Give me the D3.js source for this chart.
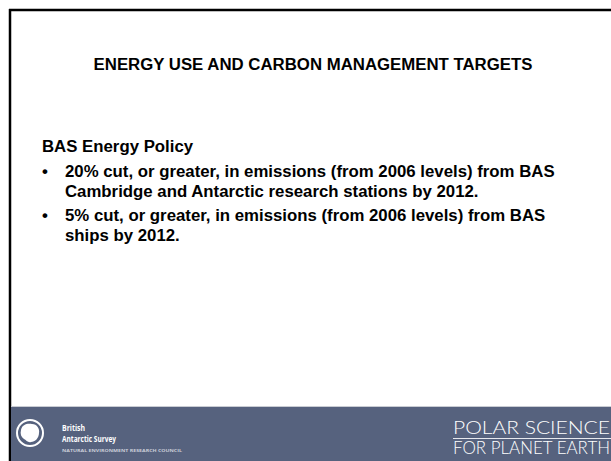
<!DOCTYPE html>
<html>
<head>
<meta charset="utf-8">
<script src="https://d3js.org/d3.v7.min.js"></script>
<style>
  body { margin: 0; background: #fff; }
</style>
</head>
<body>
<svg id="slide"></svg>
<script>
// slide text
const title = "ENERGY USE AND CARBON MANAGEMENT TARGETS";
const heading = "BAS Energy Policy";
const bullets = [
  ["20% cut, or greater, in emissions (from 2006 levels) from BAS",
   "Cambridge and Antarctic research stations by 2012."],
  ["5% cut, or greater, in emissions (from 2006 levels) from BAS",
   "ships by 2012."]
];
const logoLines = ["British", "Antarctic Survey"];
const logoSub = "NATURAL ENVIRONMENT RESEARCH COUNCIL";
const tagLines = ["POLAR SCIENCE", "FOR PLANET EARTH"];

const width = 611, height = 461;
const footerTop = 407;

const svg = d3.select("#slide")
    .attr("width", width)
    .attr("height", height);

// frame
svg.append("line")
    .attr("x1", 9).attr("x2", width).attr("y1", 10).attr("y2", 10)
    .attr("stroke", "#000").attr("stroke-width", 2.5);
svg.append("line")
    .attr("x1", 10).attr("x2", 10).attr("y1", 9).attr("y2", height)
    .attr("stroke", "#000").attr("stroke-width", 2.5);

// title
svg.append("text")
    .attr("x", 313).attr("y", 70)
    .attr("text-anchor", "middle")
    .style("font", "bold 16.8px 'Liberation Sans', Arial, sans-serif")
    .attr("fill", "#000")
    .text(title);

// heading + bullets
const bodyFont = "bold 16.8px 'Liberation Sans', Arial, sans-serif";
svg.append("text")
    .attr("x", 42).attr("y", 152)
    .style("font", bodyFont)
    .text(heading);

const bulletTop = [177, 221];
const lineGap = 20;
bullets.forEach(function(lines, i) {
    svg.append("text")
        .attr("x", 42).attr("y", bulletTop[i])
        .style("font", bodyFont)
        .text("\u2022");
    lines.forEach(function(l, j) {
        svg.append("text")
            .attr("x", 65).attr("y", bulletTop[i] + j * lineGap)
            .style("font", bodyFont)
            .text(l);
    });
});

// footer band
svg.append("rect")
    .attr("x", 11).attr("y", footerTop)
    .attr("width", width - 11).attr("height", height - footerTop)
    .attr("fill", "#56627e");
svg.append("line")
    .attr("x1", 11).attr("x2", width).attr("y1", footerTop - 0.5).attr("y2", footerTop - 0.5)
    .attr("stroke", "#c9ccd3").attr("stroke-width", 1);

// BAS logo
const logo = svg.append("g").attr("transform", "translate(30,433)");
logo.append("circle")
    .attr("r", 13)
    .attr("fill", "none")
    .attr("stroke", "#fff")
    .attr("stroke-width", 2);
logo.append("path")
    .attr("d", "M-9,-3 C-8,-9 -2,-10 2,-9 C7,-9 10,-4 9,0 C9,5 5,9 1,9 C-2,10 -4,7 -6,6 C-9,4 -10,1 -9,-3 Z")
    .attr("fill", "#fff");

// both name lines in one text block
const logoText = svg.append("text")
    .style("font", "bold 8.5px 'Open Sans', 'DejaVu Sans', sans-serif")
    .attr("fill", "#fff");
logoText.selectAll("tspan")
    .data(logoLines)
    .enter().append("tspan")
    .attr("x", 62)
    .attr("y", (d, i) => 431 + i * 10.5)
    .attr("textLength", (d, i) => i === 0 ? 23 : 54)
    .attr("lengthAdjust", "spacingAndGlyphs")
    .text(d => d);

svg.append("text")
    .attr("x", 62).attr("y", 452)
    .attr("textLength", 120)
    .attr("lengthAdjust", "spacingAndGlyphs")
    .style("font", "bold 4px 'Open Sans', sans-serif")
    .attr("fill", "#c9cdd8")
    .text(logoSub);

// tagline
tagLines.forEach(function(t, i) {
    svg.append("text")
        .attr("x", 453).attr("y", 434 + i * 20)
        .attr("textLength", 157)
        .attr("lengthAdjust", "spacingAndGlyphs")
        .style("font", "300 18.5px Lato, 'Open Sans', sans-serif")
        .attr("fill", "#fff")
        .text(t);
});
svg.append("line")
    .attr("x1", 453).attr("x2", width).attr("y1", 438.5).attr("y2", 438.5)
    .attr("stroke", "#e6e8ee").attr("stroke-width", 1);
</script>
</body>
</html>
